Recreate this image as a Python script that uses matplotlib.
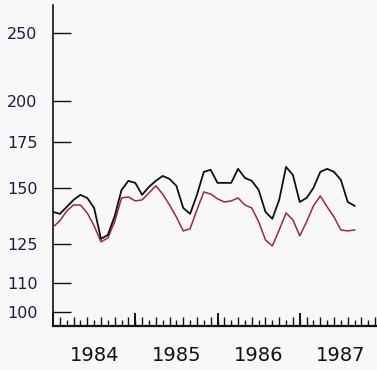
import numpy as np
import matplotlib
matplotlib.use("Agg")
import matplotlib.pyplot as plt
import matplotlib.transforms as mtransforms

# Monthly values, Jan 1984 .. Sep 1987 (log scale)
start_year = 1984
series_black = [138.9, 138.0, 141.2, 144.5, 146.9, 145.4, 140.7, 127.1, 128.8, 137.0,
                149.3, 153.8, 152.8, 146.9, 150.8, 153.8, 156.3, 154.8, 151.3, 140.7,
                138.0, 146.9, 158.4, 159.5, 152.8, 152.8, 152.8, 160.0, 155.3, 153.8,
                149.3, 138.9, 135.8, 144.5, 161.0, 156.8, 143.5, 145.4, 150.3, 158.4,
                160.0, 158.4, 154.3, 143.5, 141.7]
series_red = [132.2, 134.9, 139.3, 142.1, 142.1, 138.4, 132.7, 125.9, 127.5, 134.5,
              145.4, 145.9, 144.0, 144.5, 147.8, 151.3, 147.3, 142.1, 136.6, 130.5,
              131.4, 139.8, 148.3, 147.3, 145.0, 143.5, 144.0, 145.4, 142.1, 140.7,
              134.5, 126.7, 124.2, 130.9, 138.4, 135.3, 128.4, 134.5, 141.7, 146.4,
              141.2, 136.6, 130.9, 130.5, 130.9]
year_labels = ["1984", "1985", "1986", "1987"]
y_ticks = [100, 110, 125, 150, 175, 200, 250]

x = start_year + np.arange(len(series_black)) / 12.0

bg = "#f8f8f8"
fig = plt.figure(figsize=(3.77, 3.70), dpi=100, facecolor=bg)
ax = fig.add_axes([53 / 377, 1 - 326 / 370, 329 / 377, 321 / 370])
ax.set_facecolor(bg)

ax.plot(x, series_red, color="#a3224f", linewidth=1.1, zorder=3)
ax.plot(x, series_black, color="#111111", linewidth=1.3, zorder=4)

ax.set_yscale("log")
ax.set_ylim(95.5, 274)
ax.set_xlim(1984, 1988)

# y axis
ax.yaxis.set_major_locator(plt.FixedLocator(y_ticks))
ax.yaxis.set_minor_locator(plt.NullLocator())
ax.set_yticklabels([str(v) for v in y_ticks])
ax.tick_params(axis="y", direction="in", length=13, width=1.0, pad=11,
               labelsize=11.5, labelcolor="#1c1c4a", color="#111111")

# x axis: year ticks + every-other-month ticks, plus monthly short ticks
ax.xaxis.set_major_locator(plt.FixedLocator(np.arange(1984, 1989)))
ax.xaxis.set_minor_locator(plt.FixedLocator(1984 + np.arange(1, 48, 2) / 12.0))
ax.set_xticklabels([])
ax.tick_params(axis="x", which="major", direction="in", length=9.5, width=1.4,
               color="#111111")
ax.tick_params(axis="x", which="minor", direction="in", length=6.5, width=1.0,
               color="#111111")
sec = ax.secondary_xaxis("bottom")
sec.xaxis.set_major_locator(plt.FixedLocator(1984 + np.arange(2, 48, 2) / 12.0))
sec.xaxis.set_minor_locator(plt.NullLocator())
sec.set_xticklabels([])
sec.tick_params(axis="x", direction="in", length=4.5, width=1.0, color="#111111")
sec.spines["bottom"].set_visible(False)

trans = mtransforms.blended_transform_factory(ax.transData, ax.transAxes)
for i, lab in enumerate(year_labels):
    ax.text(start_year + i + 0.5, -0.062, lab, transform=trans, ha="center",
            va="top", fontsize=14, color="#111111")

for s in ["top", "right"]:
    ax.spines[s].set_visible(False)
ax.spines["left"].set_linewidth(1.2)
ax.spines["bottom"].set_linewidth(1.6)
ax.spines["left"].set_color("#111111")
ax.spines["bottom"].set_color("#111111")

fig.savefig("out.png", dpi=100, facecolor=bg)
